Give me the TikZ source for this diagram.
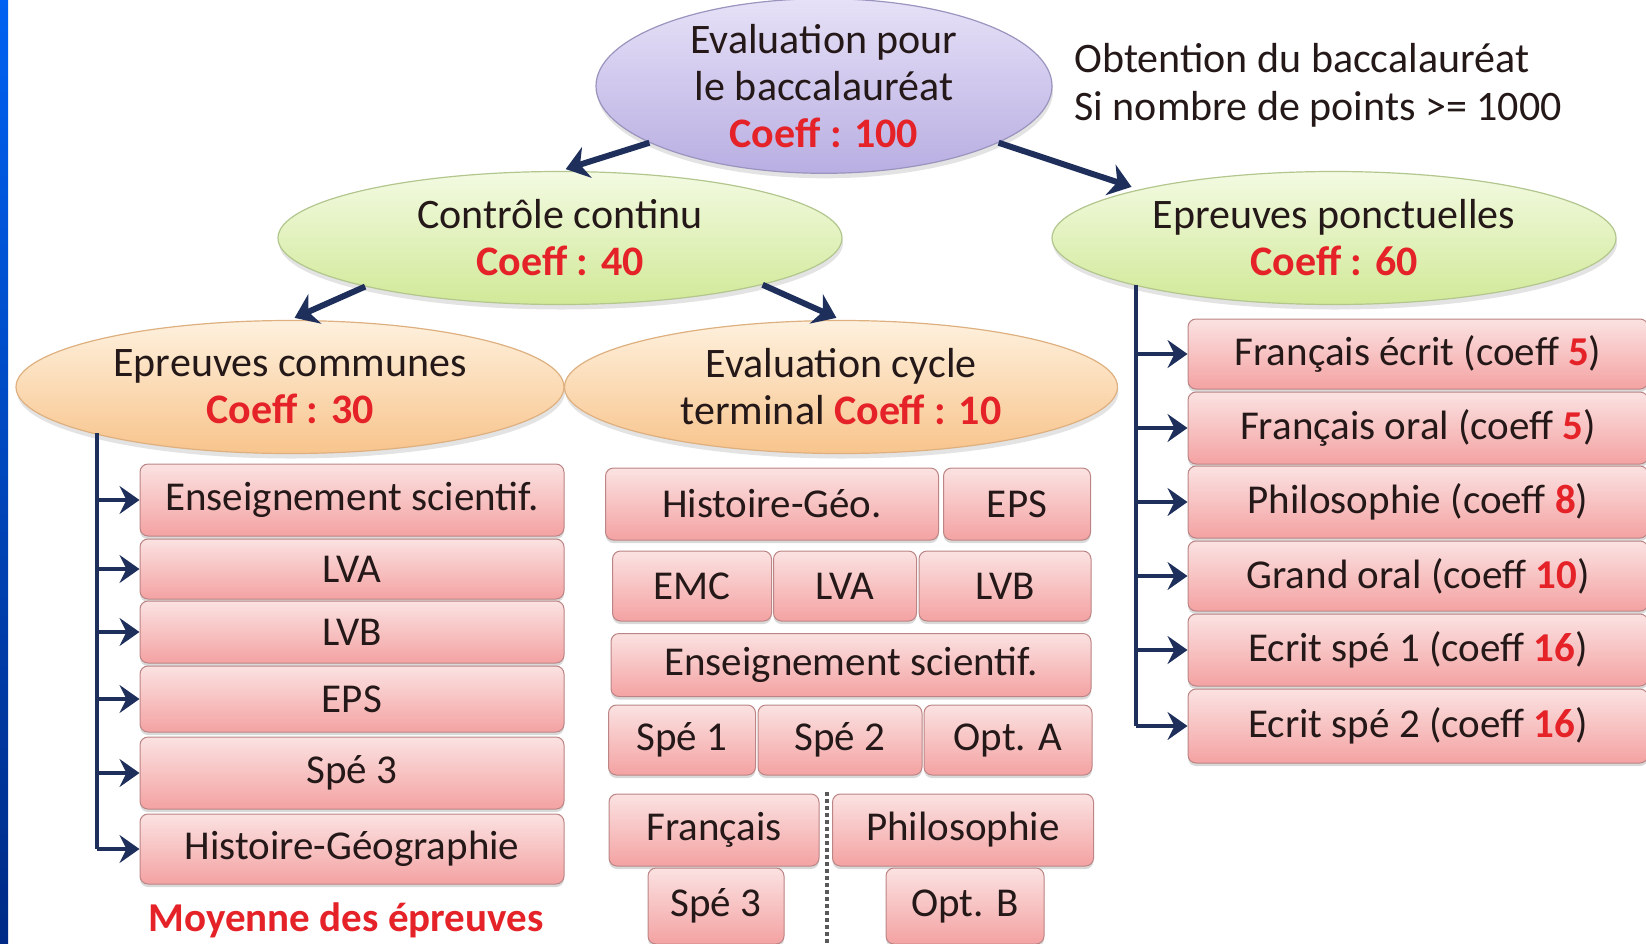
\documentclass[tikz,border=0pt]{standalone}
\usepackage{fontspec}
\setmainfont{Carlito}
\usetikzlibrary{shapes.geometric,arrows.meta,shadows}

\definecolor{bandtop}{HTML}{0062F2}
\definecolor{bandbot}{HTML}{002A86}
\definecolor{textdark}{HTML}{241818}
\definecolor{coeffred}{HTML}{E42228}
\definecolor{linknavy}{HTML}{1F2F5C}
\definecolor{purpletop}{HTML}{E6E1F7}
\definecolor{purplebot}{HTML}{B9AEE2}
\definecolor{purpleline}{HTML}{9A94BE}
\definecolor{greentop}{HTML}{F3FAE2}
\definecolor{greenbot}{HTML}{D1E998}
\definecolor{greenline}{HTML}{B2C68E}
\definecolor{orangetop}{HTML}{FEF1DE}
\definecolor{orangebot}{HTML}{F8C48C}
\definecolor{orangeline}{HTML}{DEB080}
\definecolor{pinktop}{HTML}{FBE2E2}
\definecolor{pinkbot}{HTML}{F4A2A2}
\definecolor{pinkline}{HTML}{BC8484}

\newcommand\coefftxt[1]{\textcolor{coeffred}{\bfseries #1}}

\tikzset{
    baseell/.style={ellipse, inner sep=0pt, align=center, text=textdark,
        font=\fontsize{42}{47}\selectfont, line width=1.2pt,
        drop shadow={shadow xshift=1pt, shadow yshift=-5pt, opacity=0.22}},
    purpleell/.style={baseell, draw=purpleline, top color=purpletop, bottom color=purplebot,
        minimum width=456pt, minimum height=154pt},
    greenell/.style={baseell, draw=greenline, top color=greentop, bottom color=greenbot,
        minimum width=564pt, minimum height=133pt},
    orangeell/.style={baseell, draw=orangeline, top color=orangetop, bottom color=orangebot,
        minimum height=133pt},
    pbox/.style 2 args={rectangle, rounded corners=8pt, draw=pinkline, line width=1pt,
        top color=pinktop, bottom color=pinkbot, inner sep=0pt, text=textdark,
        font=\fontsize{41}{46}\selectfont, minimum width=#1, minimum height=#2,
        drop shadow={shadow xshift=0pt, shadow yshift=-3pt, opacity=0.3}},
    link/.style={draw=linknavy, line width=6pt, -{Stealth[length=22pt, width=32pt, inset=7pt]}},
    stem/.style={draw=linknavy, line width=4.5pt},
    branch/.style={draw=linknavy, line width=4.5pt, -{Stealth[length=20pt, width=28pt, inset=7pt]}}
}

\begin{document}
\begin{tikzpicture}[x=1pt, y=-1pt]
    \useasboundingbox (0,0) rectangle (1646,943);
    \clip (0,0) rectangle (1646,943);
    \shade[top color=bandtop, bottom color=bandbot] (0,0) rectangle (8,943);

    \node[purpleell] (bac) at (824,86) {Evaluation pour\\le baccalauréat\\\coefftxt{Coeff : 100}};
    \node[anchor=west, align=left, text=textdark, font=\fontsize{42}{48}\selectfont] (obt) at (1071,85)
        {Obtention du baccalauréat\\Si nombre de points >= 1000};

    \node[greenell] (cc) at (560,238) {Contrôle continu\\\coefftxt{Coeff : 40}};
    \node[greenell] (ep) at (1334,238) {Epreuves ponctuelles\\\coefftxt{Coeff : 60}};

    \node[orangeell, minimum width=548pt] (ecom) at (290,387) {Epreuves communes\\\coefftxt{Coeff : 30}};
    \node[orangeell, minimum width=553pt] (ecyc) at (841,387) {Evaluation cycle\\terminal \coefftxt{Coeff : 10}};

    \draw[link, shorten >=6pt] (bac.198) -- (cc.north);
    \draw[link, shorten >=8pt] (bac.342) -- (ep.166);
    \draw[link, shorten >=5pt] (cc.194) -- (ecom.north);
    \draw[link, shorten >=5pt] (cc.347) -- (ecyc.north);


    \node[pbox={424pt}{72pt}] (lc1) at (352,500) {Enseignement scientif.};
    \node[pbox={424pt}{60pt}] (lc2) at (352,569) {LVA};
    \node[pbox={424pt}{62pt}] (lc3) at (352,632) {LVB};
    \node[pbox={424pt}{66pt}] (lc4) at (352,699) {EPS};
    \node[pbox={424pt}{72pt}] (lc5) at (352,773) {Spé 3};
    \node[pbox={424pt}{70pt}] (lc6) at (352,849) {Histoire-Géographie};
    \node[anchor=base, text=coeffred, font=\fontsize{41}{46}\selectfont\bfseries] (moy) at (346,931) {Moyenne des épreuves};

    \coordinate (lstem) at (97,433);
    \draw[stem] (lstem) -- (lstem |- lc6.west);
    \foreach \b in {lc1,lc2,lc3,lc4,lc5,lc6}
        \draw[branch] (lstem |- \b.west) -- (\b.west);


    \node[pbox={333pt}{72pt}] (mhg) at (772,504) {Histoire-Géo.};
    \node[pbox={147pt}{72pt}] (meps) at (1017,504) {EPS};
    \node[pbox={159pt}{70pt}] (memc) at (692,586) {EMC};
    \node[pbox={143pt}{70pt}] (mlva) at (845,586) {LVA};
    \node[pbox={172pt}{70pt}] (mlvb) at (1005,586) {LVB};
    \node[pbox={480pt}{63pt}] (mes) at (851,665) {Enseignement scientif.};
    \node[pbox={147pt}{70pt}] (ms1) at (682,740) {Spé 1};
    \node[pbox={164pt}{70pt}] (ms2) at (840,740) {Spé 2};
    \node[pbox={168pt}{70pt}] (mopa) at (1008,740) {Opt. A};
    \node[pbox={210pt}{72pt}] (mfr) at (714,830) {Français};
    \node[pbox={261pt}{72pt}] (mphi) at (963,830) {Philosophie};
    \node[pbox={136pt}{76pt}] (ms3) at (716,906) {Spé 3};
    \node[pbox={158pt}{76pt}] (mopb) at (965,906) {Opt. B};

    \coordinate (dtop) at (827,792);
    \coordinate (dbot) at (827,943);
    \draw[draw=black!65, line width=3.5pt, dash pattern=on 4pt off 3pt] (dtop) -- (dbot);


    \node[pbox={460pt}{70pt}] (rp1) at (1418,354) {Français écrit (coeff \coefftxt{5})};
    \node[pbox={460pt}{72pt}] (rp2) at (1418,428) {Français oral (coeff \coefftxt{5})};
    \node[pbox={460pt}{72pt}] (rp3) at (1418,502) {Philosophie (coeff \coefftxt{8})};
    \node[pbox={460pt}{70pt}] (rp4) at (1418,576) {Grand oral (coeff \coefftxt{10})};
    \node[pbox={460pt}{72pt}] (rp5) at (1418,650) {Ecrit spé 1 (coeff \coefftxt{16})};
    \node[pbox={460pt}{74pt}] (rp6) at (1418,726) {Ecrit spé 2 (coeff \coefftxt{16})};

    \coordinate (rstem) at (1136,285);
    \draw[stem] (rstem) -- (rstem |- rp6.west);
    \foreach \b in {rp1,rp2,rp3,rp4,rp5,rp6}
        \draw[branch] (rstem |- \b.west) -- (\b.west);
\end{tikzpicture}
\end{document}
